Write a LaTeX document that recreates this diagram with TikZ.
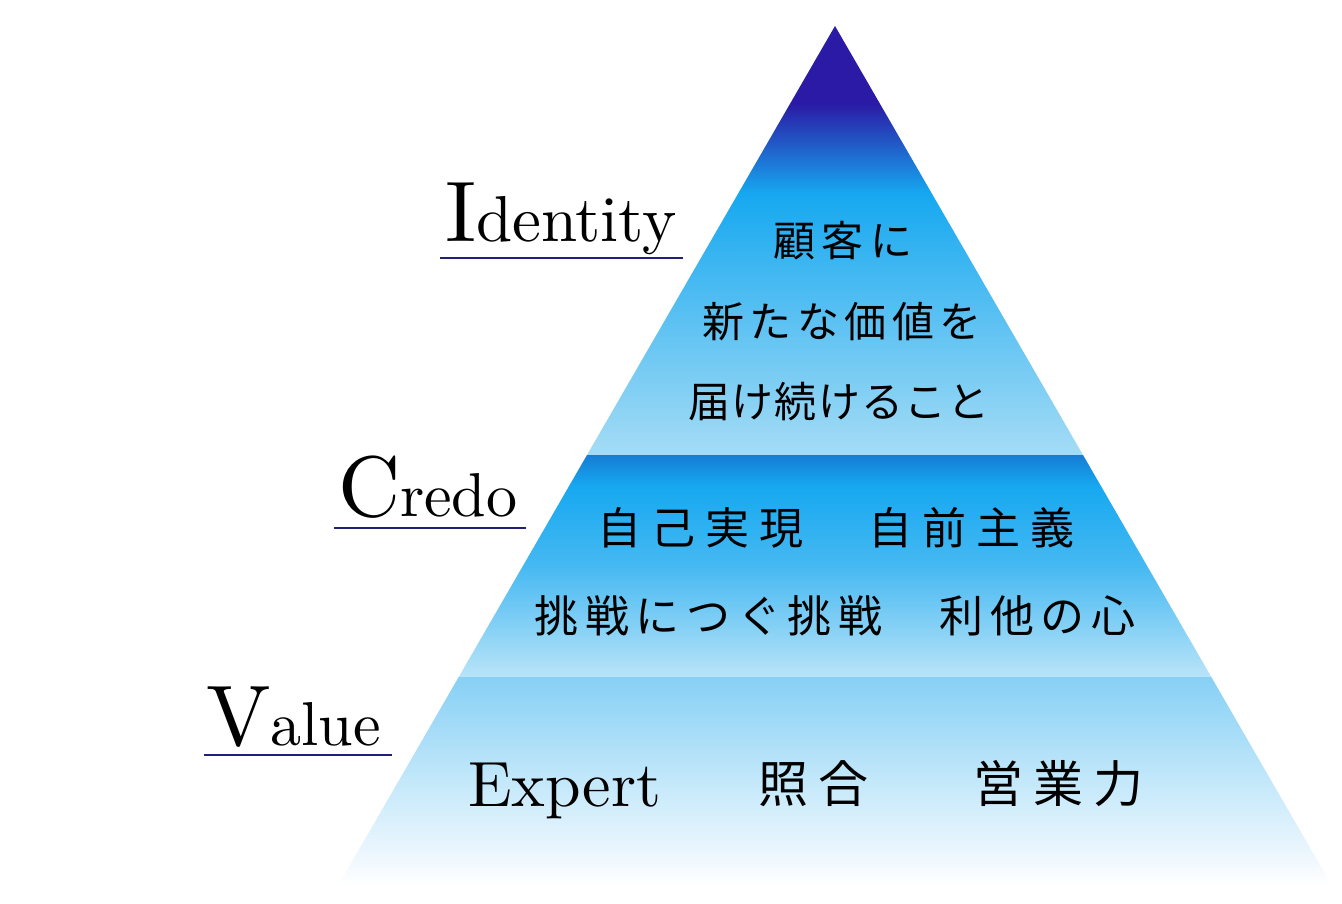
\documentclass[tikz,border=0pt]{standalone}
\usepackage{fontspec}
\newfontfamily\jpfont{Noto Sans CJK JP}
\newfontfamily\lblfont{lmroman10-regular}[Extension=.otf]
\usepackage{tikz}

\definecolor{indigotop}{RGB}{42,26,165}
\definecolor{skyblue}{RGB}{22,168,240}
\definecolor{paleblue}{RGB}{165,220,245}
\definecolor{credotop}{RGB}{22,125,212}
\definecolor{credomid}{RGB}{70,185,242}
\definecolor{credobot}{RGB}{185,228,248}
\definecolor{valuetop}{RGB}{135,208,245}
\definecolor{valuemid}{RGB}{195,232,250}
\definecolor{valuelow}{RGB}{235,246,253}

% path box sits between 25bp and 75bp
\pgfdeclareverticalshading{identityshade}{100bp}{color(0bp)=(paleblue); color(25bp)=(paleblue); color(55.5bp)=(skyblue); color(66bp)=(indigotop); color(75bp)=(indigotop); color(100bp)=(indigotop)}
\pgfdeclareverticalshading{credoshade}{100bp}{color(0bp)=(credobot); color(25bp)=(credobot); color(50bp)=(credomid); color(68bp)=(skyblue); color(75bp)=(credotop); color(100bp)=(credotop)}
\pgfdeclareverticalshading{valueshade}{100bp}{color(0bp)=(white); color(25bp)=(white); color(33bp)=(valuelow); color(50bp)=(valuemid); color(75bp)=(valuetop); color(100bp)=(valuetop)}

\begin{document}
\begin{tikzpicture}[x=1pt,y=-1pt,
  lbl/.style={inner sep=0pt,outer sep=0pt,anchor=base west,text=black},
  jp/.style={inner sep=0pt,outer sep=0pt,anchor=center,text=black},
  uline/.style={draw={rgb,255:red,32;green,32;blue,120},line width=1.2pt}]
\path[use as bounding box] (0,0) rectangle (1342,904);
\path[fill=white,draw=none] (0,0) rectangle (1342,904);
% pyramid corners
\coordinate (apex) at (835,26);
\coordinate (idl) at (587,455);
\coordinate (idr) at (1083,455);
\coordinate (crl) at (458.7,677);
\coordinate (crr) at (1211.3,677);
\coordinate (vl) at (338.5,885);
\coordinate (vr) at (1331.5,885);
\shade[shading=identityshade] (apex) -- (idr) -- (idl) -- cycle;
\shade[shading=credoshade] (idl) -- (idr) -- (crr) -- (crl) -- cycle;
\shade[shading=valueshade] (crl) -- (crr) -- (vr) -- (vl) -- cycle;
% level names
\node[lbl] (identity) at (445,242) {\lblfont\fontsize{86}{86}\selectfont I\fontsize{65}{65}\selectfont dentity};
\draw[uline] (440,258) -- (683,258);
\node[lbl] (credo) at (338,516) {\lblfont\fontsize{86}{86}\selectfont C\fontsize{62}{62}\selectfont redo};
\draw[uline] (334,528) -- (526,528);
\node[lbl] (value) at (206,745) {\lblfont\fontsize{86}{86}\selectfont V\fontsize{62}{62}\selectfont alue};
\draw[uline] (204,755) -- (392,755);
% identity
\node[jp,font=\jpfont\fontsize{42}{42}\selectfont\addfontfeature{LetterSpace=15}] (kokyaku) at (843,241) {顧客に};
\node[jp,font=\jpfont\fontsize{42}{42}\selectfont\addfontfeature{LetterSpace=13}] (kachi) at (842,322) {新たな価値を};
\node[jp,font=\jpfont\fontsize{42}{42}\selectfont\addfontfeature{LetterSpace=3}] (todoke) at (839,402) {届け続けること};
% credo
\node[jp,font=\jpfont\fontsize{44}{44}\selectfont\addfontfeature{LetterSpace=23}] (jiko) at (836,528) {自己実現　自前主義};
\node[jp,font=\jpfont\fontsize{44}{44}\selectfont\addfontfeature{LetterSpace=15}] (chosen) at (835,616) {挑戦につぐ挑戦　利他の心};
% value
\node[lbl,font=\lblfont\fontsize{64}{64}\selectfont] (expert) at (468,806) {Expert};
\node[jp,font=\jpfont\fontsize{50}{50}\selectfont\addfontfeature{LetterSpace=20}] (shogo) at (813,784) {照合};
\node[jp,font=\jpfont\fontsize{50}{50}\selectfont\addfontfeature{LetterSpace=20}] (eigyo) at (1058,784) {営業力};
\end{tikzpicture}
\end{document}
